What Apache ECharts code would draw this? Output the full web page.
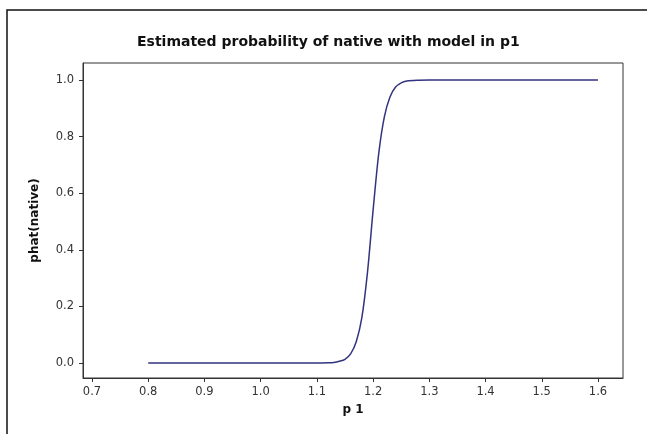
<!DOCTYPE html>
<html>
<head>
<meta charset="utf-8">
<script src="https://cdn.jsdelivr.net/npm/echarts@6/dist/echarts.min.js"></script>
<style>
  html, body { margin: 0; padding: 0; background: #fff; }
  #chart { width: 647px; height: 434px; }
</style>
</head>
<body>
<div id="chart"></div>
<script>
// values
var p1 = [0.80, 1.10, 1.12, 1.13, 1.14, 1.15, 1.16, 1.17, 1.18, 1.19, 1.20,
          1.21, 1.22, 1.23, 1.24, 1.25, 1.26, 1.28, 1.30, 1.60];
var phat = [0.0, 0.0002, 0.001, 0.002, 0.006, 0.013, 0.032, 0.075, 0.16, 0.32, 0.54,
            0.74, 0.87, 0.94, 0.975, 0.99, 0.996, 0.999, 1.0, 1.0];
var xTicks = [0.7, 0.8, 0.9, 1.0, 1.1, 1.2, 1.3, 1.4, 1.5, 1.6];
var yTicks = [0.0, 0.2, 0.4, 0.6, 0.8, 1.0];

window.onload = function() {
    var font = 'DejaVu Sans';
    var pts = [];
    for (var i = 0; i < p1.length; i++) {
        pts.push([p1[i], phat[i]]);
    }

    var option = {
        backgroundColor: '#fff',
        animation: false,
        title: {
            text: 'Estimated probability of native with model in p1',
            left: 132,
            top: 30,
            textStyle: { fontFamily: font, fontSize: 14, fontWeight: 'bold', color: '#111' }
        },
        graphic: [{
            type: 'rect',
            shape: { x: 7, y: 10, width: 700, height: 500 },
            style: { fill: 'none', stroke: '#111', lineWidth: 1.5 },
            silent: true
        }],
        grid: {
            left: 83, top: 63, right: 24, bottom: 56,
            show: true, borderColor: '#333', borderWidth: 1
        },
        xAxis: {
            type: 'value',
            min: 0.684, max: 1.6445,
            name: 'p 1',
            nameLocation: 'middle',
            nameGap: 26,
            nameTextStyle: { fontFamily: font, fontSize: 12, fontWeight: 'bold', color: '#111' },
            axisLine: { show: true, onZero: false, lineStyle: { color: '#333' } },
            axisTick: { show: true, inside: false, length: 4, customValues: xTicks, lineStyle: { color: '#333' } },
            axisLabel: {
                customValues: xTicks, margin: 8,
                fontFamily: font, fontSize: 11.5, color: '#333',
                formatter: function(v) { return v.toFixed(1); }
            },
            splitLine: { show: false }
        },
        yAxis: {
            type: 'value',
            min: -0.053, max: 1.06,
            name: 'phat(native)',
            nameLocation: 'middle',
            nameGap: 42,
            nameRotate: 90,
            nameTextStyle: { fontFamily: font, fontSize: 12, fontWeight: 'bold', color: '#111' },
            axisLine: { show: true, onZero: false, lineStyle: { color: '#333' } },
            axisTick: { show: true, inside: false, length: 4, customValues: yTicks, lineStyle: { color: '#333' } },
            axisLabel: {
                customValues: yTicks, margin: 9,
                fontFamily: font, fontSize: 11.5, color: '#333',
                formatter: function(v) { return v.toFixed(1); }
            },
            splitLine: { show: false }
        },
        series: [{
            type: 'line',
            data: pts,
            smooth: 0.3,
            showSymbol: false,
            lineStyle: { color: '#33337f', width: 1.5 }
        }]
    };

    var chart = echarts.init(document.getElementById('chart'));
    chart.setOption(option);
};
</script>
</body>
</html>
